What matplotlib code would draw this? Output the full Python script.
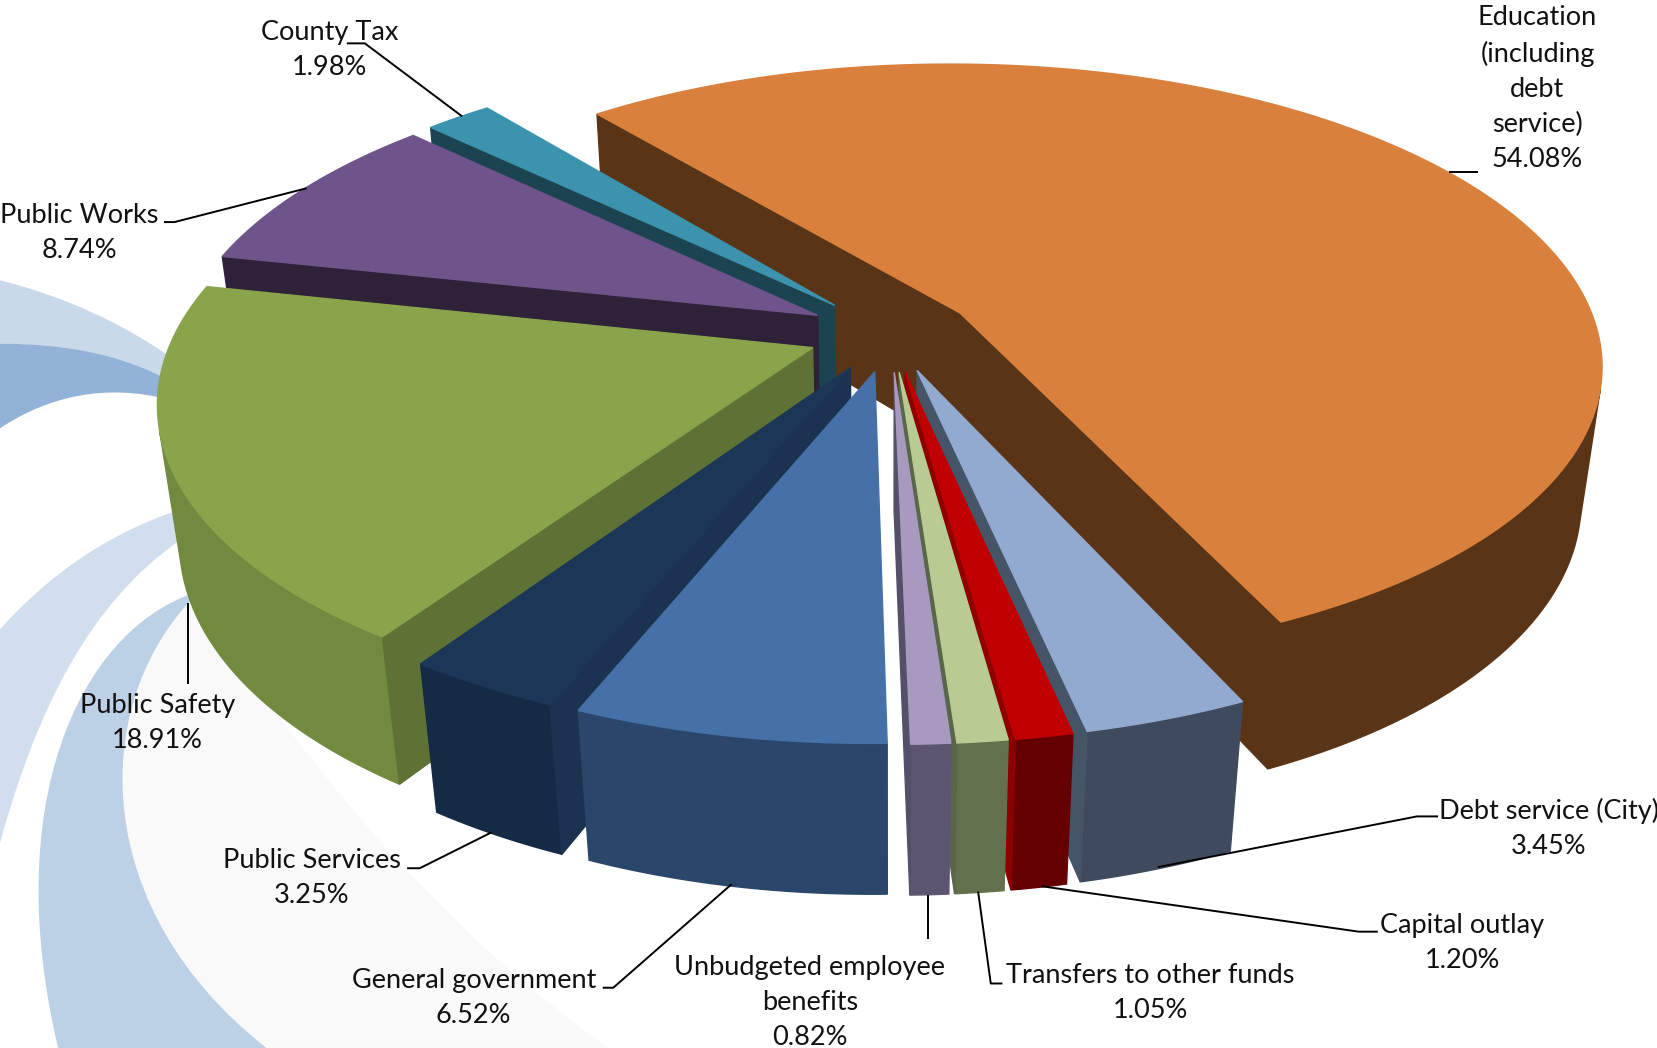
import numpy as np
import matplotlib
matplotlib.use('Agg')
import matplotlib.pyplot as plt
from matplotlib.patches import PathPatch
from matplotlib.path import Path

plt.rcParams['font.family'] = ['Lato', 'DejaVu Sans']

# data, clockwise from the cut at upper left
categories = ['Education\n(including\ndebt\nservice)', 'Debt service (City)', 'Capital outlay',
              'Transfers to other funds', 'Unbudgeted employee\nbenefits', 'General government',
              'Public Services', 'Public Safety', 'Public Works', 'County Tax']
shares = [54.08, 3.45, 1.20, 1.05, 0.82, 6.52, 3.25, 18.91, 8.74, 1.98]

top_colors = ['#d9813c', '#92a9d0', '#c00000', '#b7cb92', '#a89abf', '#4571a8', '#1c3657', '#8aa44c', '#6f548c', '#3c93ae']
wall_colors = ['#5a3416', '#3f4a5e', '#640000', '#62704e', '#5d5470', '#2a476b', '#152a45', '#728a40', '#2e2138', '#1c4450']
cut_colors = ['#5a3416', '#465468', '#8e0000', '#58664a', '#55506a', '#2a476b', '#1b3350', '#5f7236', '#2e2138', '#1c4450']

# label centre and leader line, in picture pixels
label_pos = [(1454, 84), (1465, 783), (1383, 892), (1088, 939), (766, 948), (448, 944), (295, 830), (149, 684), (75, 220), (312, 47)]
leaders = [
    [(1370, 163), (1398, 163)],
    [(1360, 772), (1340, 772), (1095, 820)],
    [(1303, 881), (1285, 881), (985, 838)],
    [(948, 930), (937, 930), (925, 843)],
    [(878, 888), (878, 846)],
    [(570, 934), (580, 934), (692, 836)],
    [(385, 821), (397, 821), (465, 787)],
    [(178, 647), (178, 570)],
    [(155, 210), (165, 210), (290, 178)],
    [(328, 41), (345, 41), (437, 110)],
]

# viewing setup of the pie
CX, CY = 842, 315
A, B, H = 604, 280, 132
P, Q = 0.165, 0.03
EXPLODE = 0.13
START = -39.3


def project(u, v, z):
    w = 1 - P * v + Q * z
    return CX + A * u / w, CY + (B * v + H * z) / w


def signed_area(pts):
    x, y = np.array(pts).T
    return 0.5 * np.sum(x * np.roll(y, -1) - np.roll(x, -1) * y)


def fill_face(ax, pts, color, z):
    ax.fill(*zip(*pts), facecolor=color, edgecolor=color, lw=1.0, zorder=z)


def draw_slice(ax, a0, a1, top, wall, cut, z):
    mid = np.radians((a0 + a1) / 2)
    ou, ov = EXPLODE * np.sin(mid), -EXPLODE * np.cos(mid)
    th = np.radians(np.linspace(a0, a1, max(int(a1 - a0) * 2, 4)))
    us, vs = ou + np.sin(th), ov - np.cos(th)

    # outer wall, only the part turned to the viewer, as one polygon
    visible = []
    for i in range(len(th) - 1):
        quad = [project(us[i], vs[i], 0), project(us[i + 1], vs[i + 1], 0),
                project(us[i + 1], vs[i + 1], 1), project(us[i], vs[i], 1)]
        if signed_area(quad) < 0:
            visible += [i, i + 1]
    if visible:
        idx = sorted(set(visible))
        outline = [project(us[i], vs[i], 0) for i in idx] + [project(us[i], vs[i], 1) for i in idx[::-1]]
        fill_face(ax, outline, wall, z)

    # the two cut faces
    q0 = [project(ou, ov, 0), project(us[0], vs[0], 0), project(us[0], vs[0], 1), project(ou, ov, 1)]
    q1 = [project(us[-1], vs[-1], 0), project(ou, ov, 0), project(ou, ov, 1), project(us[-1], vs[-1], 1)]
    for q in (q0, q1):
        if signed_area(q) < 0:
            fill_face(ax, q, cut, z + 0.1)

    # top
    poly = [project(ou, ov, 0)] + [project(a, b, 0) for a, b in zip(us, vs)]
    fill_face(ax, poly, top, z + 0.2)


def band(ax, verts, color):
    codes = [Path.MOVETO] + [Path.CURVE4] * (len(verts) - 2) + [Path.CLOSEPOLY]
    # verts: start + triples of bezier points, last entry closes the path
    ax.add_patch(PathPatch(Path(verts, codes), facecolor=color, edgecolor='none', zorder=1))


fig = plt.figure(figsize=(16.58, 10.48), dpi=100)
ax = fig.add_axes([0, 0, 1, 1])
ax.set_xlim(0, 1568)
ax.set_ylim(991, 0)
ax.axis('off')

# swirl in the page background
band(ax, [(0, 265), (60, 280), (115, 305), (165, 340), (165, 345), (165, 360), (165, 365),
          (110, 335), (50, 325), (0, 325), (0, 325)], '#c9d9ea')
band(ax, [(0, 325), (60, 325), (115, 335), (160, 360), (160, 365), (160, 372), (160, 378),
          (100, 362), (45, 375), (0, 405), (0, 405)], '#92b2d8')
band(ax, [(0, 595), (45, 545), (100, 505), (170, 482), (170, 490), (170, 500), (170, 511),
          (85, 570), (35, 670), (0, 797), (0, 797)], '#d0deed')
band(ax, [(178, 555), (300, 740), (420, 880), (575, 991), (400, 991), (200, 991), (60, 991),
          (60, 800), (110, 620), (178, 555), (178, 555)], '#f9f9f9')
band(ax, [(180, 562), (75, 600), (0, 760), (55, 991), (120, 991), (190, 991), (252, 991),
          (85, 860), (85, 670), (180, 568), (180, 568)], '#bcd0e6')

# pie, far slices first
ends = START + np.cumsum(shares) * 3.6
starts = np.r_[START, ends[:-1]]
order = [0, 9, 8, 7, 6, 5, 1, 2, 3, 4]
for n, k in enumerate(order):
    draw_slice(ax, starts[k], ends[k], top_colors[k], wall_colors[k], cut_colors[k], 2 + n)

# labels
for name, share, pos, line in zip(categories, shares, label_pos, leaders):
    ax.text(pos[0], pos[1], f'{name}\n{share:.2f}%', ha='center', va='center', fontsize=19.5,
            color='#111111', linespacing=1.5, zorder=30)
    xs, ys = zip(*line)
    ax.plot(xs, ys, color='black', lw=1.4, zorder=29, solid_capstyle='butt')

fig.savefig('out.png', dpi=100)
